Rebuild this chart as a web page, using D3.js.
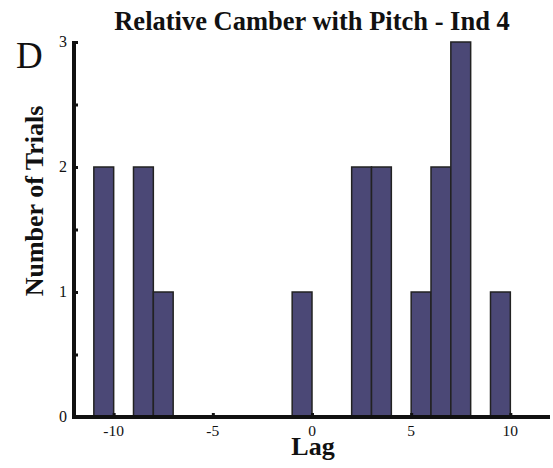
<!DOCTYPE html>
<html><head><meta charset="utf-8">
<script src="https://cdn.jsdelivr.net/npm/d3@7"></script>
<style>body{margin:0;background:#fff}svg{display:block}</style>
</head><body>
<script>
// Histogram bins: left edge of each unit-wide bin and its count
const binStarts = [-11, -9, -8, -1, 2, 3, 5, 6, 7, 9];
const counts    = [2, 2, 1, 1, 2, 2, 1, 2, 3, 1];
const xTicks = [-10, -5, 0, 5, 10];
const yTicks = [0, 1, 2, 3];
const yMinorTicks = [0.5, 1.5, 2.5];
const title = "Relative Camber with Pitch - Ind 4";
const xLabel = "Lag";
const yLabel = "Number of Trials";
const panel = "D";

const W = 553, H = 468;
const svg = d3.select("body").append("svg").attr("width", W).attr("height", H);
const font = "'Liberation Serif','Times New Roman',serif";

const x = d3.scaleLinear().domain([-12, 12]).range([74, 550]);
const y = d3.scaleLinear().domain([0, 3]).range([417, 42]);

// bars
svg.append("g").selectAll("rect").data(binStarts.map((s,i)=>({s, c:counts[i]})))
  .enter().append("rect")
  .attr("x", d => x(d.s))
  .attr("width", d => x(d.s + 1) - x(d.s))
  .attr("y", d => y(d.c))
  .attr("height", d => y(0) - y(d.c))
  .attr("fill", "#4b4876")
  .attr("stroke", "#222")
  .attr("stroke-width", 1.5);

// y axis
const yAxis = d3.axisRight(y).tickValues(yTicks.concat(yMinorTicks)).tickSize(4).tickFormat("");
const gy = svg.append("g").attr("transform", `translate(${x(-12)},0)`).call(yAxis);
gy.select(".domain").remove();
gy.selectAll(".tick line").attr("stroke", "#111").attr("stroke-width", 3);
svg.append("line").attr("x1", x(-12)).attr("x2", x(-12)).attr("y1", y(3) - 1).attr("y2", y(0) + 2)
  .attr("stroke", "#111").attr("stroke-width", 4);
svg.append("g").selectAll("text").data(yTicks).enter().append("text")
  .attr("x", 67).attr("y", d => y(d) + 5).attr("text-anchor", "end")
  .attr("font-family", font).attr("font-size", 16).attr("fill", "#111")
  .text(d => d);

// x axis
const xAxis = d3.axisTop(x).tickValues(xTicks).tickSize(4).tickFormat("");
const gx = svg.append("g").attr("transform", `translate(0,${y(0)})`).call(xAxis);
gx.select(".domain").remove();
gx.selectAll(".tick line").attr("stroke", "#111").attr("stroke-width", 3);
svg.append("line").attr("x1", x(-12) - 2).attr("x2", x(12)).attr("y1", y(0)).attr("y2", y(0))
  .attr("stroke", "#111").attr("stroke-width", 4);
svg.append("g").selectAll("text").data(xTicks).enter().append("text")
  .attr("x", d => x(d)).attr("y", 436).attr("text-anchor", "middle")
  .attr("font-family", font).attr("font-size", 15.5).attr("fill", "#111")
  .text(d => d);

// labels
svg.append("text").attr("x", 312).attr("y", 30).attr("text-anchor", "middle")
  .attr("font-family", font).attr("font-weight", "bold").attr("font-size", 26.5).attr("fill", "#111")
  .text(title);
svg.append("text").attr("x", 313).attr("y", 455).attr("text-anchor", "middle")
  .attr("font-family", font).attr("font-weight", "bold").attr("font-size", 26).attr("fill", "#111")
  .text(xLabel);
svg.append("text").attr("transform", "translate(43,201) rotate(-90)").attr("text-anchor", "middle")
  .attr("font-family", font).attr("font-weight", "bold").attr("font-size", 26).attr("fill", "#111")
  .text(yLabel);
svg.append("text").attr("x", 16).attr("y", 68)
  .attr("font-family", font).attr("font-size", 37).attr("fill", "#111")
  .text(panel);
</script>
</body></html>
